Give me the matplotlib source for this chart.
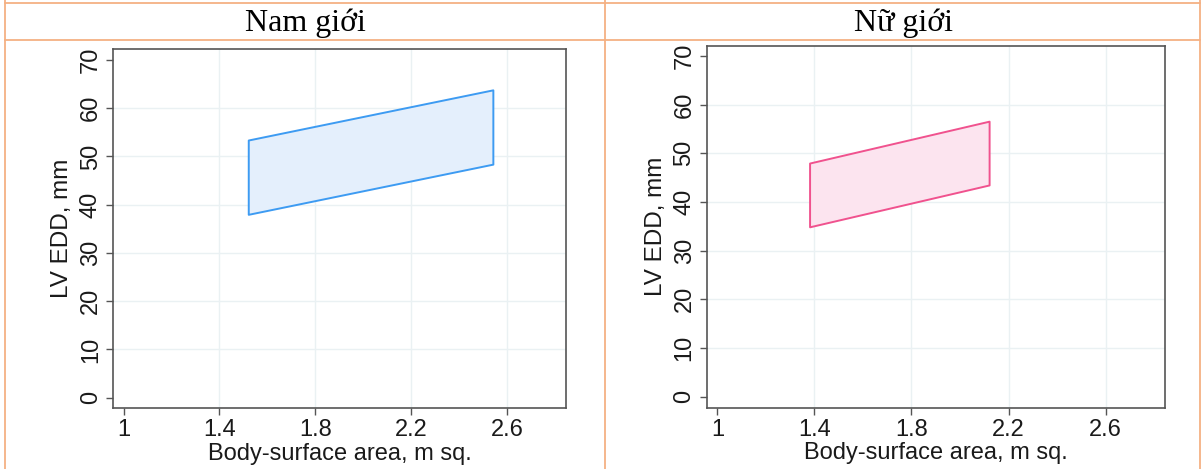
import matplotlib
matplotlib.use("Agg")
import matplotlib.pyplot as plt
from matplotlib.lines import Line2D

# Du lieu doc tu hinh (BSA, m^2 va LV EDD, mm)
headers = ["Nam giới", "Nữ giới"]
male_bsa = [1.52, 2.54]
male_upper = [53.4, 63.8]
male_lower = [38.0, 48.4]
female_bsa = [1.38, 2.12]
female_upper = [48.0, 56.6]
female_lower = [34.9, 43.5]
x_ticks = [1, 1.4, 1.8, 2.2, 2.6]
x_tick_labels = ["1", "1.4", "1.8", "2.2", "2.6"]
y_ticks = [0, 10, 20, 30, 40, 50, 60, 70]
x_grid = [1.4, 1.8, 2.2, 2.6]
y_grid = [10, 20, 30, 40, 50, 60]

W, H = 1204, 469
plt.rcParams["font.family"] = ["Liberation Sans", "DejaVu Sans"]
fig = plt.figure(figsize=(W / 100, H / 100), dpi=100)


def box(x0, y0, x1, y1):
    # pixel -> figure fraction
    return [x0 / W, 1 - y1 / H, (x1 - x0) / W, (y1 - y0) / H]


def fline(x0, y0, x1, y1):
    fig.add_artist(Line2D([x0 / W, x1 / W], [1 - y0 / H, 1 - y1 / H],
                          color="#F4B183", lw=1.3))


# Khung bang kieu Word
fline(5, 3, 1200, 3)
fline(5, 40, 1200, 40)
for xv in [5, 605, 1200]:
    fline(xv, 0, xv, H)

fig.text(305 / W, 1 - 23 / H, headers[0], ha="center", va="center",
         family=["Liberation Serif", "DejaVu Serif"], size=23, color="#000")
fig.text(903 / W, 1 - 23 / H, headers[1], ha="center", va="center",
         family=["Liberation Serif", "DejaVu Serif"], size=23, color="#000")

panels = [
    (box(113, 49.3, 566, 408.3), male_bsa, male_lower, male_upper,
     "#E4EFFC", "#3D9BF2", (-2.2, 72.2)),
    (box(706.7, 45.7, 1165, 407.7), female_bsa, female_lower, female_upper,
     "#FCE4EF", "#F0528E", (-2.25, 72.1)),
]

for pos, bsa, lower, upper, fill, edge, ylim in panels:
    ax = fig.add_axes(pos)
    for g in x_grid:
        ax.axvline(g, color="#EAF1F3", lw=1, zorder=0)
    for g in y_grid:
        ax.axhline(g, color="#EAF1F3", lw=1, zorder=0)
    ax.fill_between(bsa, lower, upper, facecolor=fill, edgecolor=edge,
                    lw=1.4, zorder=2)
    ax.set_xlim(0.956, 2.845)
    ax.set_ylim(*ylim)
    ax.set_xticks(x_ticks)
    ax.set_xticklabels(x_tick_labels)
    ax.set_yticks(y_ticks)
    for s in ax.spines.values():
        s.set_color("#555555")
        s.set_linewidth(1.2)
    ax.tick_params(direction="out", length=5, width=1, color="#555555",
                   labelsize=17, labelcolor="#1a1a1a", pad=3)
    ax.tick_params(axis="y", labelrotation=90)
    for lab in ax.get_yticklabels():
        lab.set_va("center")
    ax.set_xlabel("Body-surface area, m sq.", fontsize=17, color="#1a1a1a",
                  labelpad=1)
    ax.set_ylabel("LV EDD, mm", fontsize=17.5, color="#1a1a1a", labelpad=5)

fig.savefig("out.png", dpi=100)
